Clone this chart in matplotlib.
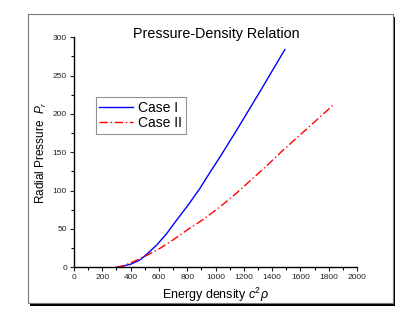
import matplotlib
matplotlib.use("Agg")
import matplotlib.pyplot as plt
from matplotlib.patches import Rectangle
from matplotlib.ticker import MultipleLocator

plt.rcParams['font.family'] = ['Liberation Sans', 'DejaVu Sans']
plt.rcParams['mathtext.fontset'] = 'custom'
plt.rcParams['mathtext.it'] = 'Liberation Sans:italic'
plt.rcParams['mathtext.rm'] = 'Liberation Sans'

# Case I (blue solid)
x1 = [300, 325, 400, 466, 520, 584, 655, 726, 810, 890, 960, 1032, 1150, 1320, 1490]
y1 = [0, 0.8, 4, 9.5, 18, 29, 44, 61.7, 82, 103, 123.5, 144, 179, 231, 284]
# Case II (red dash-dot)
x2 = [300, 350, 419, 514, 610, 702, 810, 914, 1030, 1150, 1350, 1479, 1660, 1840]
y2 = [0, 2, 7.3, 15.5, 25, 36, 50, 62.5, 78.5, 97, 130.4, 153, 183, 213]

fig = plt.figure(figsize=(4.15, 3.21), dpi=100)

# page frame with shadow
W, H = 415, 321
fig.patches.append(Rectangle((30 / W, 1 - 306 / H), 365 / W, 289 / H,
                             transform=fig.transFigure, fc='black', ec='none', zorder=-2))
fig.patches.append(Rectangle((28 / W, 1 - 303 / H), 365 / W, 289 / H,
                             transform=fig.transFigure, fc='white', ec='#777777', lw=0.8, zorder=-1))

ax = fig.add_axes([74 / W, 1 - 267.3 / H, 283 / W, 230 / H])
ax.set_facecolor('none')
ax.plot(x1, y1, color='#0000ff', lw=1.0, label='Case I')
ax.plot(x2, y2, color='#ff0000', lw=1.0, ls=(0, (6, 2, 1, 2)), label='Case II')

ax.set_xlim(0, 2000)
ax.set_ylim(0, 300)
ax.xaxis.set_major_locator(MultipleLocator(200))
ax.xaxis.set_minor_locator(MultipleLocator(100))
ax.yaxis.set_major_locator(MultipleLocator(50))
ax.yaxis.set_minor_locator(MultipleLocator(25))
for s in ['top', 'right']:
    ax.spines[s].set_visible(False)
for s in ['left', 'bottom']:
    ax.spines[s].set_linewidth(1.0)
ax.tick_params(which='major', direction='out', length=3, width=0.8, labelsize=6, pad=2, colors='#222222')
ax.tick_params(which='minor', direction='out', length=2, width=0.8)

ax.set_xlabel(r'Energy density $c^2\rho$', fontsize=9, labelpad=3)
ax.set_ylabel(r'Radial Pressure  $P_r$', fontsize=8.5, labelpad=3)
fig.text(216 / W, 1 - 34 / H, 'Pressure-Density Relation', ha='center', va='center', fontsize=10.3)

leg = ax.legend(loc='upper left', bbox_to_anchor=(22 / 283, 1 - 60 / 230), fontsize=10,
                frameon=True, fancybox=False, handlelength=2.4, handletextpad=0.4,
                borderpad=0.25, labelspacing=0.1, borderaxespad=0)
leg.get_frame().set_edgecolor('#777777')
leg.get_frame().set_linewidth(0.8)

fig.savefig('out.png', dpi=100)
